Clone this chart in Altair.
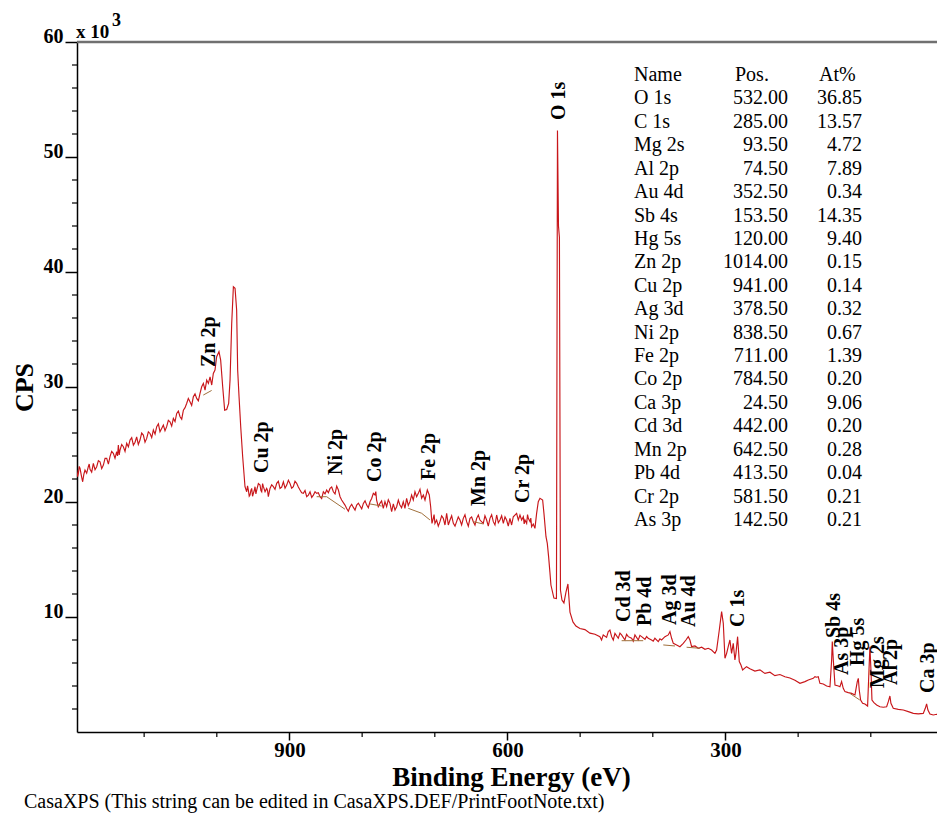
import altair as alt
import pandas as pd

SERIF = "Liberation Serif"

# ---- survey spectrum (binding energy eV, counts x 10^3) ----
be = [1192.8, 1190.5, 1188.2, 1184.6, 1181.4, 1176.8, 1174.5, 1169.9, 1165.3, 1160.7,
      1156.1, 1151.5, 1147.0, 1142.4, 1137.8, 1135.5, 1133.2, 1128.6, 1124.0, 1119.4,
      1114.8, 1110.3, 1105.7, 1101.1, 1096.5, 1091.9, 1087.3, 1082.7, 1078.2, 1073.6,
      1069.0, 1064.4, 1059.8, 1055.2, 1050.6, 1046.0, 1041.5, 1039.2, 1036.9, 1032.3,
      1027.7, 1023.1, 1020.8, 1018.5, 1016.2, 1013.9, 1011.6, 1009.3, 1007.0, 1004.8,
      1002.5, 1000.2, 997.0, 994.7, 991.9, 989.2, 986.4, 983.7, 981.8, 979.5,
      977.2, 974.9, 972.7, 971.3, 969.4, 967.1, 964.4, 961.2, 958.9, 956.6,
      954.3, 952.0, 949.7, 947.4, 945.1, 940.5, 938.2, 935.9, 931.4, 929.1,
      926.8, 922.2, 917.6, 913.0, 908.4, 903.8, 899.3, 894.7, 890.1, 885.5,
      880.9, 876.3, 871.7, 867.1, 862.6, 858.0, 853.4, 848.8, 844.2, 839.6,
      835.0, 832.7, 830.4, 828.2, 823.6, 821.3, 816.7, 812.1, 807.5, 802.9,
      798.3, 793.7, 789.2, 784.6, 782.4, 780.1, 775.5, 770.9, 768.6, 766.3,
      761.7, 759.4, 757.1, 752.5, 750.2, 748.0, 743.4, 741.1, 738.8, 734.2,
      731.9, 729.6, 727.3, 725.0, 722.7, 720.4, 718.1, 715.8, 713.5, 710.3,
      707.6, 705.7, 703.9, 702.1, 699.8, 697.5, 692.9, 688.3, 683.7, 681.4,
      679.1, 674.5, 670.0, 665.4, 660.8, 656.2, 651.6, 647.0, 642.4, 640.1,
      637.9, 633.3, 628.7, 624.1, 619.5, 614.9, 610.3, 605.7, 601.2, 596.6,
      594.3, 592.0, 587.4, 585.1, 582.8, 580.5, 578.2, 575.9, 573.6, 571.3,
      569.0, 566.8, 564.5, 562.2, 559.9, 557.6, 555.3, 551.6, 549.8, 547.0,
      545.2, 543.4, 541.6, 540.2, 536.1, 532.6, 531.2, 529.8, 528.5, 527.1,
      525.0, 522.3, 519.5, 516.8, 514.0, 509.9, 505.8, 500.3, 493.4, 486.5,
      479.6, 472.8, 468.2, 463.6, 461.3, 459.0, 456.7, 452.1, 447.5, 443.0,
      438.4, 433.8, 429.2, 424.6, 420.0, 415.4, 410.8, 406.3, 401.7, 397.1,
      392.5, 387.9, 383.3, 378.7, 376.4, 374.1, 371.8, 367.2, 362.7, 358.1,
      354.4, 351.2, 348.9, 346.6, 342.0, 337.4, 332.8, 328.2, 323.7, 319.1,
      314.5, 312.2, 308.5, 305.3, 303.0, 300.7, 298.4, 296.2, 293.9, 291.6,
      289.3, 287.0, 285.6, 283.3, 281.0, 278.7, 276.4, 271.0, 266.4, 259.5,
      252.6, 245.7, 238.8, 232.0, 225.1, 218.2, 211.3, 204.4, 197.5, 190.6,
      186.0, 179.2, 176.9, 174.6, 172.3, 170.0, 165.4, 160.8, 156.2, 153.9,
      153.0, 151.6, 149.3, 144.7, 142.5, 140.2, 137.9, 135.6, 131.0, 126.4,
      121.8, 118.6, 117.2, 115.9, 114.0, 111.3, 108.1, 104.4, 102.5, 101.2,
      99.8, 98.4, 95.7, 92.0, 87.4, 82.8, 78.2, 75.9, 73.7, 72.3,
      69.1, 62.2, 55.3, 48.4, 41.5, 34.7, 27.8, 25.0, 23.2, 21.4,
      18.6, 14.0, 9.4, 4.8, -2.0]
cps = [22.78, 22.49, 22.92, 21.76, 22.78, 23.07, 22.84, 23.36, 23.07, 23.50,
       23.21, 23.79, 23.94, 24.23, 24.37, 24.95, 24.52, 24.81, 25.10, 25.39,
       24.95, 25.67, 25.39, 25.82, 25.53, 25.96, 26.26, 26.55, 26.11, 26.69,
       26.55, 26.98, 27.27, 27.70, 27.41, 27.99, 28.57, 29.01, 28.72, 29.15,
       29.01, 29.44, 30.02, 30.31, 29.73, 30.60, 30.31, 30.89, 30.17, 31.18,
       31.47, 32.63, 33.07, 32.34, 30.02, 27.99, 28.05, 28.57, 30.60, 35.53,
       38.72, 38.58, 36.69, 31.47, 29.15, 26.55, 23.94, 21.33, 20.89, 21.04,
       20.60, 21.18, 20.75, 21.33, 21.04, 21.47, 20.89, 21.33, 21.18, 20.46,
       21.18, 21.33, 21.62, 21.18, 21.76, 21.47, 21.62, 21.33, 21.62, 21.04,
       20.75, 20.46, 20.89, 20.60, 20.75, 20.46, 20.89, 21.04, 21.18, 20.89,
       21.38, 21.04, 20.46, 20.17, 19.73, 19.44, 19.59, 19.53, 19.73, 19.65,
       19.88, 19.73, 20.02, 20.75, 20.61, 20.17, 19.88, 19.45, 20.03, 19.59,
       19.88, 19.16, 19.83, 19.59, 20.17, 19.74, 20.03, 19.45, 20.32, 20.03,
       20.61, 20.17, 20.90, 20.46, 20.75, 21.10, 20.32, 20.61, 20.17, 21.04,
       20.61, 19.59, 18.14, 18.58, 18.14, 18.43, 18.29, 18.58, 19.01, 18.00,
       18.43, 18.14, 18.29, 18.43, 18.58, 18.29, 18.58, 18.29, 18.58, 18.87,
       18.43, 18.14, 18.43, 18.58, 18.29, 18.87, 18.43, 18.14, 18.43, 18.58,
       18.00, 18.72, 19.01, 18.43, 18.87, 18.43, 18.72, 18.43, 18.14, 18.58,
       18.29, 17.85, 18.09, 17.71, 19.01, 20.03, 20.32, 20.17, 19.01, 16.98,
       16.40, 15.25, 13.90, 12.78, 11.65, 11.60, 52.30, 44.00, 43.00, 12.35,
       11.48, 11.22, 12.17, 12.87, 10.43, 9.57, 9.22, 9.00, 8.90, 8.60,
       8.50, 8.29, 8.44, 8.23, 8.73, 8.87, 8.29, 8.58, 8.15, 8.44,
       8.00, 8.29, 8.15, 8.44, 8.00, 8.29, 8.06, 8.15, 8.00, 8.15,
       7.86, 8.00, 8.29, 8.44, 8.73, 8.15, 7.71, 7.57, 7.42, 7.71,
       8.00, 8.29, 8.00, 7.42, 7.48, 7.28, 7.37, 7.19, 7.28, 7.13,
       6.84, 7.13, 8.87, 10.47, 9.45, 6.41, 6.84, 7.42, 8.00, 6.84,
       7.71, 6.26, 6.84, 8.29, 6.12, 5.83, 5.39, 5.68, 5.50, 5.30,
       5.40, 5.10, 5.20, 4.90, 5.00, 4.80, 4.70, 4.50, 4.23, 4.38,
       4.52, 4.67, 4.81, 4.76, 4.81, 4.23, 4.18, 4.00, 3.94, 6.26,
       7.86, 6.26, 4.09, 4.00, 3.94, 4.38, 3.80, 3.51, 3.42, 3.36,
       3.22, 4.38, 4.67, 3.65, 2.78, 2.49, 2.44, 2.26, 5.39, 7.42,
       5.39, 2.78, 2.55, 2.35, 2.20, 2.15, 2.20, 2.64, 3.13, 2.49,
       2.06, 1.97, 1.91, 1.77, 1.62, 1.57, 1.62, 2.06, 2.44, 1.91,
       1.57, 1.48, 1.54, 1.39, 1.33]

# finer noise read between the points above
be_fine = [1191.6, 1189.3, 1186.4, 1183.0, 1179.1, 1175.6, 1172.2, 1167.6, 1163.0, 1158.4,
           1153.8, 1149.2, 1144.7, 1140.1, 1136.6, 1134.3, 1130.9, 1126.3, 1121.7, 1117.1,
           1112.5, 1108.0, 1103.4, 1098.8, 1094.2, 1089.6, 1085.0, 1080.4, 1075.9, 1071.3,
           1066.7, 1062.1, 1057.5, 1052.9, 1048.3, 1043.7, 1034.6, 1030.0, 1025.4,
           957.7, 955.4, 953.1, 950.8, 948.5, 946.2, 942.8, 939.3, 937.0, 933.6,
           930.2, 924.5, 919.9, 915.3, 910.7, 906.1, 901.5, 897.0, 892.4, 887.8,
           883.2, 878.6, 874.0, 869.4, 864.8, 860.3, 855.7, 851.1, 846.5, 841.9,
           837.3, 819.0, 814.4, 809.8, 805.2, 800.6, 796.0, 791.5, 786.9, 781.2,
           777.8, 773.2, 764.0, 754.8, 745.7, 736.5, 701.0, 695.2, 690.6, 686.0,
           676.8, 672.2, 667.7, 663.1, 658.5, 653.9, 649.3, 644.7, 631.0, 626.4,
           621.8, 617.2, 612.6, 608.0, 603.4, 598.9, 577.0, 572.4, 567.9, 470.5,
           454.4, 445.2, 436.1, 426.9, 417.7, 408.5, 399.4, 390.2]
cps_fine = [22.2, 23.1, 22.3, 22.4, 22.5, 23.3, 22.6, 22.8, 23.6, 22.9,
            23.8, 23.3, 24.4, 23.8, 24.0, 24.1, 25.0, 24.4, 24.8, 25.6,
            25.2, 25.0, 26.0, 25.2, 26.1, 25.6, 25.9, 26.8, 26.4, 26.2,
            27.1, 26.6, 27.0, 27.9, 27.2, 28.2, 28.4, 29.4, 28.8,
            21.4, 20.5, 21.0, 20.5, 21.0, 20.7, 21.6, 21.0, 21.6, 20.9,
            21.0, 21.5, 21.1, 21.8, 21.3, 21.2, 21.9, 21.2, 21.8, 21.3,
            20.8, 21.0, 20.6, 20.4, 20.9, 20.8, 20.3, 20.7, 20.8, 21.3,
            20.7, 19.2, 19.8, 19.3, 19.9, 19.4, 20.1, 19.5, 20.3, 20.9,
            19.6, 20.1, 20.2, 19.3, 19.5, 19.7, 18.9, 17.9, 18.8, 18.0,
            18.8, 17.9, 18.7, 18.0, 18.9, 17.9, 18.7, 18.0, 18.8, 17.9,
            18.9, 18.0, 18.2, 18.8, 18.7, 17.9, 18.1, 18.9, 18.6, 8.0,
            8.0, 8.6, 8.5, 7.9, 8.4, 8.3, 7.9, 8.1]

# ---- background (baseline) segments under the fitted regions ----
bg_seg = [1, 1, 2, 2, 2, 3, 3, 4, 4, 4, 5, 5, 6, 6, 7, 7, 8, 8, 9, 9]
bg_be = [1018.6, 1007.1, 862.6, 848.8, 823.6, 789.2, 773.1, 736.5, 718.1, 706.7,
         647.1, 633.3, 442.9, 413.2, 385.6, 369.5, 353.5, 335.2, 128.8, 115.1]
bg_cps = [29.3, 29.7, 20.46, 20.46, 19.37, 19.83, 19.65, 19.45, 19.02, 18.44,
          18.29, 18.09, 7.94, 7.94, 7.57, 7.48, 7.37, 7.28, 3.36, 2.78]

# ---- quantification table ----
names = ["O 1s", "C 1s", "Mg  2s", "Al 2p", "Au 4d", "Sb 4s", "Hg  5s", "Zn 2p", "Cu 2p", "Ag 3d",
         "Ni 2p", "Fe 2p", "Co 2p", "Ca 3p", "Cd 3d", "Mn 2p", "Pb 4d", "Cr 2p", "As 3p"]
pos = [532.00, 285.00, 93.50, 74.50, 352.50, 153.50, 120.00, 1014.00, 941.00, 378.50,
       838.50, 711.00, 784.50, 24.50, 442.00, 642.50, 413.50, 581.50, 142.50]
at_pct = [36.85, 13.57, 4.72, 7.89, 0.34, 14.35, 9.40, 0.15, 0.14, 0.32,
          0.67, 1.39, 0.20, 9.06, 0.20, 0.28, 0.04, 0.21, 0.21]
# where each rotated peak label starts (counts x 10^3)
label_cps = [53.22, 9.13, 3.83, 4.09, 9.13, 8.17, 5.74, 31.74, 22.52, 9.30,
             22.35, 21.91, 21.74, 3.39, 9.57, 19.65, 9.22, 19.91, 4.96]

y_major = [10, 20, 30, 40, 50, 60]
y_minor = [2, 4, 6, 8, 12, 14, 16, 18, 22, 24, 26, 28, 32, 34, 36, 38, 42, 44, 46, 48, 52, 54, 56, 58]
x_major = [900, 600, 300]
x_minor = [1100, 1000, 800, 700, 500, 400, 200, 100]

W, H = 860, 690
RED = "#C8161A"
BROWN = "#A0703C"

spec_df = pd.DataFrame({"be": be + be_fine, "cps": cps + cps_fine})
bg_df = pd.DataFrame({"seg": bg_seg, "be": bg_be, "cps": bg_cps})
lab_df = pd.DataFrame({"name": [n.replace("  ", " ") for n in names], "pos": pos, "cps": label_cps})
tab_df = pd.DataFrame({
    "row": list(range(1, len(names) + 1)),
    "name": names,
    "pos": [f"{p:.2f}" for p in pos],
    "at": [f"{a:.2f}" for a in at_pct],
})
head_df = pd.DataFrame({"row": [0, 0, 0], "txt": ["Name", "Pos.", "At%"], "col": [0, 1, 2]})

x_scale = alt.Scale(domain=[1192.4, 8.9], nice=False, zero=False)
y_scale = alt.Scale(domain=[0, 60], nice=False, zero=False)

x_axis = alt.Axis(values=x_major, title="Binding Energy (eV)", grid=False,
                  tickSize=8, tickWidth=1.5, tickColor="black",
                  domainColor="black", domainWidth=1.5,
                  labelPadding=16, labelBaseline="alphabetic", labelFlush=False, labelOverlap=False,
                  labelFont=SERIF, labelFontSize=21, labelFontWeight="bold", labelColor="black",
                  titleFont=SERIF, titleFontSize=27, titleFontWeight="bold", titleColor="black",
                  titleX=434, titleY=53, titleBaseline="alphabetic", titleAlign="center")
y_axis = alt.Axis(values=y_major, title="CPS", grid=False,
                  tickSize=12, tickWidth=1.5, tickColor="black",
                  domainColor="black", domainWidth=1.5,
                  labelPadding=2, labelAlign="right", labelBaseline="alphabetic",
                  labelFlush=False, labelOverlap=False,
                  labelFont=SERIF, labelFontSize=20, labelFontWeight="bold", labelColor="black",
                  titleFont=SERIF, titleFontSize=26, titleFontWeight="bold", titleColor="black",
                  titleX=-45, titleY=H / 2, titleAngle=270, titleBaseline="alphabetic",
                  titleAlign="center")

spectrum = alt.Chart(spec_df).mark_line(color=RED, strokeWidth=1.15, clip=True).encode(
    x=alt.X("be:Q", scale=x_scale, axis=x_axis),
    y=alt.Y("cps:Q", scale=y_scale, axis=y_axis),
)
background = alt.Chart(bg_df).mark_line(color=BROWN, strokeWidth=1, clip=True).encode(
    x="be:Q", y="cps:Q", detail="seg:N",
)
peak_labels = alt.Chart(lab_df).mark_text(
    angle=270, align="left", baseline="middle", dy=2,
    font=SERIF, fontSize=20, fontWeight="bold", color="black",
).encode(x="pos:Q", y="cps:Q", text="name:N")

y_minor_ticks = alt.Chart(pd.DataFrame({"v": y_minor})).mark_rule(
    color="black", strokeWidth=1.2).encode(y="v:Q", x=alt.value(-5), x2=alt.value(0))
x_minor_ticks = alt.Chart(pd.DataFrame({"v": x_minor})).mark_rule(
    color="black", strokeWidth=1.2).encode(x="v:Q", y=alt.value(H), y2=alt.value(H + 5))
top_frame = alt.Chart(pd.DataFrame({"v": [0]})).mark_rule(
    color="#707070", strokeWidth=2.5).encode(x=alt.value(0), x2=alt.value(W), y=alt.value(0))

mult = alt.Chart(pd.DataFrame({"t": ["x 10"]})).mark_text(
    align="left", baseline="alphabetic", font=SERIF, fontSize=19, fontWeight="bold", color="black"
).encode(x=alt.value(-1), y=alt.value(-4), text="t:N")
sup = alt.Chart(pd.DataFrame({"t": ["3"]})).mark_text(
    align="left", baseline="alphabetic", font=SERIF, fontSize=18, fontWeight="bold", color="black"
).encode(x=alt.value(35), y=alt.value(-16), text="t:N")
footer = alt.Chart(pd.DataFrame({"t": ["CasaXPS (This string can be edited in CasaXPS.DEF/PrintFootNote.txt)"]})).mark_text(
    align="left", baseline="alphabetic", font=SERIF, fontSize=20, color="black"
).encode(x=alt.value(-53), y=alt.value(H + 76), text="t:N")

plot = alt.layer(spectrum, background, peak_labels, y_minor_ticks, x_minor_ticks,
                 top_frame, mult, sup, footer)

row_y = alt.Y("row:Q", scale=alt.Scale(domain=[0, 19], range=[33, 478]), axis=None)
tab_text = dict(baseline="middle", font=SERIF, fontSize=20, color="black")
t_name = alt.Chart(tab_df).mark_text(align="left", **tab_text).encode(
    x=alt.value(557), y=row_y, text="name:N")
t_pos = alt.Chart(tab_df).mark_text(align="right", **tab_text).encode(
    x=alt.value(711), y=row_y, text="pos:N")
t_at = alt.Chart(tab_df).mark_text(align="right", **tab_text).encode(
    x=alt.value(785), y=row_y, text="at:N")
h_name = alt.Chart(head_df[head_df.col == 0]).mark_text(align="left", **tab_text).encode(
    x=alt.value(557), y=row_y, text="txt:N")
h_pos = alt.Chart(head_df[head_df.col == 1]).mark_text(align="left", **tab_text).encode(
    x=alt.value(658), y=row_y, text="txt:N")
h_at = alt.Chart(head_df[head_df.col == 2]).mark_text(align="left", **tab_text).encode(
    x=alt.value(742), y=row_y, text="txt:N")
table = alt.layer(h_name, h_pos, h_at, t_name, t_pos, t_at)

chart = alt.layer(plot, table).resolve_scale(y="independent").properties(
    width=W, height=H,
    autosize=alt.AutoSizeParams(type="none"),
    padding={"left": 69, "top": 34, "right": 0, "bottom": 81},
).configure_view(strokeWidth=0)

chart.save("out.html", embed_options={"renderer": "svg", "actions": False})
